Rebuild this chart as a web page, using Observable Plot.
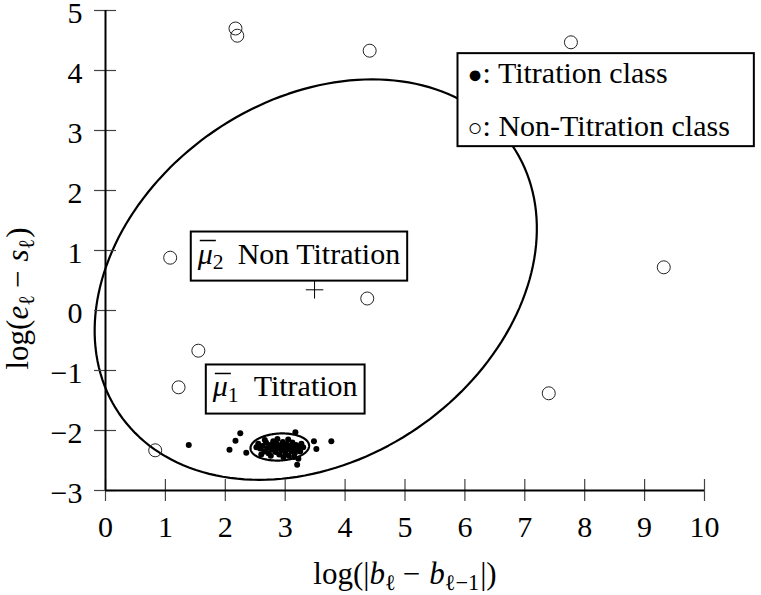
<!DOCTYPE html>
<html><head><meta charset="utf-8">
<script src="https://cdn.jsdelivr.net/npm/d3@7"></script>
<script src="https://cdn.jsdelivr.net/npm/@observablehq/plot@0.6"></script>
<style>body{margin:0;background:#fff} svg{display:block}</style>
</head><body><div id="chart"></div>
<script>
// ---- data ----
const xTicks = [0, 1, 2, 3, 4, 5, 6, 7, 8, 9, 10];
const yTicks = [-3, -2, -1, 0, 1, 2, 3, 4, 5];

// Titration class (filled dots)
const titX = [1.39, 2.25, 2.17, 2.07, 2.35, 3.17, 3.48, 3.52, 3.77, 3.20, 3.22,
  2.55, 2.58, 2.62, 2.65, 2.68, 2.70, 2.72, 2.75, 2.78, 2.80, 2.82, 2.84, 2.86, 2.88, 2.90,
  2.92, 2.94, 2.96, 2.98, 3.00, 3.02, 3.04, 3.06, 3.08, 3.10, 3.12, 3.14, 3.16, 3.18, 3.20,
  3.22, 3.25, 3.27, 2.60, 2.66, 2.76, 2.87, 2.97, 3.05, 3.15, 2.52, 3.30, 2.93, 2.83, 3.03];
const titY = [-2.24, -2.045, -2.17, -2.32, -2.37, -2.03, -2.18, -2.31, -2.18, -2.57, -2.47,
  -2.22, -2.30, -2.26, -2.35, -2.20, -2.29, -2.38, -2.24, -2.32, -2.18, -2.27, -2.36, -2.22, -2.30, -2.40,
  -2.25, -2.33, -2.19, -2.28, -2.37, -2.23, -2.31, -2.42, -2.26, -2.34, -2.20, -2.29, -2.38, -2.24, -2.32,
  -2.27, -2.35, -2.22, -2.40, -2.16, -2.42, -2.14, -2.44, -2.15, -2.44, -2.28, -2.28, -2.28, -2.30, -2.27];

// Non-Titration class (open circles)
const nonX = [2.17, 2.20, 4.41, 7.77, 1.08, 4.37, 1.55, 1.22, 0.83, 9.32, 7.40];
const nonY = [4.70, 4.58, 4.33, 4.47, 0.88, 0.20, -0.67, -1.28, -2.33, 0.72, -1.38];

// mean marker (+)
const meanX = [3.49];
const meanY = [0.345];

// ellipses: centre, semi-axes, rotation (degrees)
const ellName = ["Non Titration", "Titration"];
const ellCX = [3.51, 2.91];
const ellCY = [0.515, -2.275];
const ellA = [3.97, 0.49];
const ellB = [3.0, 0.225];
const ellRot = [34.2, 3];

// annotations
const annotText = ["μ2 Non Titration", "μ1 Titration"];
const annotX = [3.23, 3.0];
const annotY = [0.943, -1.273];

// legend
const legendSymbols = ["●", "○"];
const legendLabels = [": Titration class", ": Non-Titration class"];

// axis labels
const xLabel = "log(|bℓ − bℓ−1|)";
const yLabel = "log(eℓ − sℓ)";

// ---- build ----
const FONT = "'Liberation Serif', 'Times New Roman', serif";
const FS = 30;
const LFS = 31;
const fmt = d => d < 0 ? "−" + Math.abs(d) : String(d);

const titData = titX.map((x, i) => ({x, y: titY[i]}));
const nonData = nonX.map((x, i) => ({x, y: nonY[i]}));
const meanData = meanX.map((x, i) => ({x, y: meanY[i]}));
const annotData = annotText.map((t, i) => ({t, x: annotX[i], y: annotY[i]}));
const legendLines = legendSymbols.map((s, i) => s + legendLabels[i]);

const ellPts = [];
ellName.forEach((name, k) => {
  const phi = ellRot[k] * Math.PI / 180;
  for (let deg = 0; deg < 360; deg += 2) {
    const t = deg * Math.PI / 180;
    const u = ellA[k] * Math.cos(t), v = ellB[k] * Math.sin(t);
    ellPts.push({name,
      x: ellCX[k] + u * Math.cos(phi) - v * Math.sin(phi),
      y: ellCY[k] + u * Math.sin(phi) + v * Math.cos(phi)});
  }
});

const svg = Plot.plot({
  width: 761, height: 595,
  marginLeft: 105, marginRight: 57, marginTop: 10, marginBottom: 105,
  x: {domain: [0, 10]},
  y: {domain: [-3, 5]},
  style: {fontFamily: FONT, background: "#fff", color: "#000"},
  marks: [
    Plot.line(ellPts, {x: "x", y: "y", z: "name", curve: "linear-closed", stroke: "#000", strokeWidth: 2.2}),
    Plot.dot(titData, {x: "x", y: "y", r: 3, fill: "#000"}),
    Plot.dot(nonData, {x: "x", y: "y", r: 6.5, stroke: "#222", strokeWidth: 1, fill: "none"}),
    Plot.dot(meanData, {x: "x", y: "y", symbol: "plus", r: 5.7, stroke: "#000", strokeWidth: 1}),
    Plot.axisX({ticks: xTicks, tickSize: 22, dy: -11, fill: "none", stroke: "#444", strokeWidth: 1.2}),
    Plot.axisY({ticks: yTicks, tickSize: 22, dx: 11, fill: "none", stroke: "#444", strokeWidth: 1.2}),
    Plot.ruleX([0], {stroke: "#000", strokeWidth: 2}),
    Plot.ruleY([-3], {stroke: "#000", strokeWidth: 2}),
    Plot.axisX({ticks: xTicks, tickSize: 0, tickPadding: 25, fontSize: FS, fontFamily: FONT, label: null, tickFormat: fmt, fill: "#000"}),
    Plot.axisY({ticks: yTicks, tickSize: 0, tickPadding: 23, fontSize: FS, fontFamily: FONT, label: null, tickFormat: fmt, dy: 2.5, fill: "#000"}),
    Plot.text([xLabel], {text: d => d, frameAnchor: "bottom", textAnchor: "middle", lineAnchor: "middle", dy: 84, fontSize: LFS, fontFamily: FONT, fill: "#000"}),
    Plot.text([yLabel], {text: d => d, frameAnchor: "left", textAnchor: "middle", lineAnchor: "middle", rotate: -90, dx: -87, dy: 48, fontSize: LFS, fontFamily: FONT, fill: "#000"}),
    Plot.text(annotData, {x: "x", y: "y", text: "t", fontSize: FS, fontFamily: FONT, fill: "#000"}),
    Plot.text([legendLines.join("\n")], {text: d => d, frameAnchor: "top-left", dx: 362, dy: 35, lineAnchor: "top", lineHeight: 1.767, textAnchor: "start", fontSize: FS, fontFamily: FONT, fill: "#000"})
  ]
});
document.getElementById("chart").append(svg);

// ---- rich text (italics, subscripts, overline) ----
const richSpecs = new Map([
  [yLabel, [{t: "log("}, {t: "e", i: 1}, {t: "ℓ", sub: 1}, {t: "−", dx: 7}, {t: "s", i: 1, dx: 9}, {t: "ℓ", sub: 1}, {t: ")", dx: 1}]],
  [xLabel, [{t: "log(|"}, {t: "b", i: 1}, {t: "ℓ", sub: 1}, {t: "−", dx: 7}, {t: "b", i: 1, dx: 9}, {t: "ℓ−1", sub: 1}, {t: "|)", dx: 1}]],
  [annotText[0], [{t: "μ", i: 1, over: 1}, {t: "2", sub: 1}, {t: "Non Titration", dx: 14}]],
  [annotText[1], [{t: "μ", i: 1, over: 1}, {t: "1", sub: 1}, {t: "Titration", dx: 15}]]
]);
const SVGNS = "http://www.w3.org/2000/svg";
const overlines = [];
function rich(el, parts, fs) {
  el.textContent = "";
  let shift = 0;
  for (const p of parts) {
    const ts = document.createElementNS(SVGNS, "tspan");
    ts.textContent = p.t;
    const target = p.sub ? 0.17 * fs : 0;
    if (target !== shift) { ts.setAttribute("dy", target - shift); shift = target; }
    if (p.sub) ts.setAttribute("font-size", 0.72 * fs);
    if (p.i) ts.setAttribute("font-style", "italic");
    if (p.dx) ts.setAttribute("dx", p.dx);
    el.appendChild(ts);
  }
  if (parts[0].over) overlines.push(el);
}
const boxed = [];
d3.select(svg).selectAll("text").each(function () {
  const c = this.textContent;
  const spec = richSpecs.get(c);
  if (spec) rich(this, spec, (c === xLabel || c === yLabel) ? LFS : FS);
  if (c === annotText[0] || c === annotText[1]) boxed.push([this, {l: 6, r: 7, t: 5, b: 7}]);
  if (c === legendLines.join("")) {
    // smaller legend symbols
    d3.select(this).selectAll("tspan").each(function (d, i) {
      this.textContent = "";
      const sym = document.createElementNS(SVGNS, "tspan");
      sym.textContent = legendSymbols[i];
      sym.setAttribute("font-size", 25);
      this.appendChild(sym);
      const rest = document.createElementNS(SVGNS, "tspan");
      rest.textContent = legendLabels[i];
      this.appendChild(rest);
    });
    boxed.push([this, {l: 10, r: 24, t: 3, b: 4}]);
  }
});
// overline bars above μ
for (const el of overlines) {
  const e = el.getExtentOfChar(0);
  d3.select(el.parentNode).append("line")
    .attr("transform", el.getAttribute("transform"))
    .attr("x1", e.x + 2).attr("x2", e.x + e.width + 3)
    .attr("y1", e.y + 4).attr("y2", e.y + 4)
    .attr("stroke", "#000").attr("stroke-width", 1.5);
}
for (const [el, p] of boxed) {
  const b = el.getBBox();
  d3.select(el.parentNode).insert("rect", () => el)
    .attr("transform", el.getAttribute("transform"))
    .attr("x", b.x - p.l).attr("y", b.y - p.t)
    .attr("width", b.width + p.l + p.r).attr("height", b.height + p.t + p.b)
    .attr("fill", "#fff").attr("stroke", "#000").attr("stroke-width", 2);
}
</script>
</body></html>
